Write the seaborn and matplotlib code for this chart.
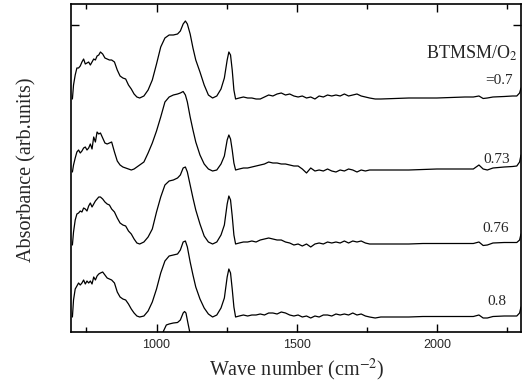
import matplotlib
matplotlib.use("Agg")
import matplotlib.pyplot as plt
import seaborn as sns
import pandas as pd

# Wavenumber grid (cm^-1)
wavenumber = [700, 704, 710, 716, 722, 728, 734, 740, 746, 752, 758, 764, 770, 776, 782, 788, 794, 800,
              808, 816, 824, 832, 840, 850, 860, 870, 880, 890, 900, 910, 920, 930, 940,
              955, 970, 985, 1000, 1015, 1030, 1045, 1060, 1075, 1085, 1095, 1103, 1110, 1120, 1130,
              1140, 1155, 1170, 1185, 1200, 1215, 1230, 1242, 1252, 1258, 1264, 1270, 1276, 1282,
              1295, 1310, 1325, 1340, 1355, 1370, 1385, 1400, 1415, 1430, 1445, 1460, 1475, 1490,
              1505, 1520, 1535, 1550, 1565, 1580, 1595, 1610, 1625, 1640, 1655, 1670, 1685, 1700,
              1715, 1730, 1745, 1760, 1780, 1800,
              1850, 1900, 1950, 2000, 2050, 2100, 2130, 2150, 2165, 2180, 2200, 2240, 2270, 2285, 2295, 2300]

# Offset absorbance (arb. units) for each BTMSM/O2 ratio
abs_070 = [233, 247, 257, 264, 264, 266, 270, 273, 268, 269, 270, 267, 270, 273, 272, 276, 277, 280,
           278, 274, 273, 272, 272, 270, 262, 256, 254, 253, 247, 243, 238, 235, 234,
           236, 242, 252, 268, 285, 294, 297, 297, 298, 301, 308, 311, 308, 298, 284,
           272, 260, 247, 237, 234, 236, 243, 254, 272, 280, 277, 262, 242, 233,
           234, 235, 234, 234, 233, 233, 235, 237, 236, 238, 239, 237, 238, 236,
           235, 236, 234, 235, 233, 236, 235, 237, 236, 237, 236, 238, 236, 237,
           238, 236, 235, 234, 233, 233,
           233.5, 234, 234, 234, 234.5, 235, 235, 236, 233.5, 234, 235, 235.5, 236, 236, 239, 244]

abs_073 = [160, 167, 174, 180, 182, 179, 181, 184, 185, 182, 184, 188, 183, 195, 190, 200, 198, 199,
           194, 189, 188, 189, 190, 180, 171, 167, 165, 164, 163, 162, 163, 165, 167,
           170, 179, 189, 201, 215, 230, 235, 237, 238, 239, 240.5, 237, 230, 215, 202,
           190, 177, 168, 163, 161, 162, 168, 176, 192, 197, 193, 182, 169, 162,
           163, 164, 164, 165, 166, 167, 168, 170, 169, 169, 168, 168, 167, 166,
           166, 163, 159, 164, 161, 162, 161, 163, 161, 160, 162, 161, 163, 162,
           160, 162, 161, 162, 162, 162,
           162, 162, 162.5, 163, 163, 163, 163, 167, 163, 162, 164, 165, 165.5, 166, 170, 177]

abs_076 = [87, 100, 112, 118, 119, 121, 120, 124, 123, 121, 126, 129, 125, 128, 131, 133, 135, 135,
           133, 130, 128, 127, 123, 120, 114, 109, 107, 106, 101, 98, 93, 89, 88,
           90, 95, 103, 120, 135, 147, 151, 152, 154, 157, 164, 165, 160, 147, 134,
           122, 108, 96, 90, 88, 90, 97, 107, 128, 136, 132, 116, 97, 88,
           89, 90, 90, 91, 90, 92, 93, 94, 93, 92, 92, 90, 89, 87,
           88, 86, 88, 85, 88, 89, 88, 90, 89, 90, 89, 91, 89, 91,
           90, 91, 89, 88, 88, 88,
           88, 88, 88.5, 88.5, 88.5, 88.5, 88.5, 90, 86.5, 87, 89, 89.5, 89.5, 89.5, 92, 98]

abs_080 = [15, 32, 43, 46, 49, 47, 49, 52, 48, 51, 49, 51, 48, 55, 52, 56, 58, 59,
           60, 57, 54, 53, 52, 49, 40, 35, 33, 32, 28, 23, 19, 16, 15,
           16, 21, 30, 43, 59, 71, 76, 77, 78, 82, 90, 91, 85, 70, 57,
           45, 33, 24, 18, 15, 17, 24, 34, 55, 63, 59, 43, 25, 15,
           16, 17, 16, 17, 17, 18, 17, 19, 19, 18, 20, 19, 17, 16,
           17, 15, 16, 14, 16, 15, 17, 17, 16, 18, 17, 18, 17, 19,
           17, 18, 16, 15, 14, 15,
           15, 15, 15.5, 15.5, 15.5, 15.5, 15.5, 17, 14, 14, 15.5, 16, 16, 16, 19, 25]

# Next spectrum below, only its Si-O-Si peak top is inside the frame
wavenumber_next = [1000, 1015, 1025, 1035, 1045, 1060, 1075, 1085, 1095, 1100, 1105, 1112, 1120, 1130]
abs_next = [-23, -8, 1, 7, 8, 9, 9.5, 12, 19, 20.5, 19, 9, -2, -16]

ratio_labels = ["=0.7", "0.73", "0.76", "0.8"]
y_ticks = [307]
x_major = [1000, 1500, 2000]
x_minor = [750, 1250, 1750, 2250]

sns.set_theme(style="ticks")
plt.rcParams["font.family"] = ["Liberation Serif", "DejaVu Serif"]
plt.rcParams["mathtext.fontset"] = "stix"

fig = plt.figure(figsize=(5.26, 3.87), dpi=100)
ax = fig.add_axes([71 / 526, 1 - 332 / 387, 450 / 526, 328 / 387])

frames = []
for name, vals in zip(["=0.7", "0.73", "0.76", "0.8"], [abs_070, abs_073, abs_076, abs_080]):
    frames.append(pd.DataFrame({"wn": wavenumber, "a": vals, "ratio": name}))
frames.append(pd.DataFrame({"wn": wavenumber_next, "a": abs_next, "ratio": "next"}))
df = pd.concat(frames, ignore_index=True)

sns.lineplot(data=df, x="wn", y="a", units="ratio", estimator=None, sort=False,
             color="black", linewidth=0.9, legend=False, ax=ax)

ax.set_xlim(695, 2300)
ax.set_ylim(0, 328)
ax.set_xticks(x_major)
ax.set_xticks(x_minor, minor=True)
ax.set_yticks(y_ticks)
ax.set_yticklabels([])
ax.tick_params(axis="both", which="major", direction="in", length=6, width=1,
               top=True, right=True, color="black")
ax.tick_params(axis="both", which="minor", direction="in", length=3.5, width=1,
               top=True, right=True, color="black")
ax.tick_params(axis="x", labelsize=9, pad=5)
for lab in ax.get_xticklabels():
    lab.set_fontfamily("Liberation Sans")
for s in ax.spines.values():
    s.set_linewidth(1.2)
    s.set_color("black")
    s.set_visible(True)

ax.set_xlabel("Wave number (cm$^{-2}$)", fontsize=14.5)
ax.set_ylabel("Absorbance (arb.units)", fontsize=14.5)
ax.xaxis.set_label_coords((296.5 - 71) / 450, (332 - 357) / 328)
ax.yaxis.set_label_coords((36 - 71) / 450, (332 - 170) / 328)

ax.text(0.991, 0.835, "BTMSM/O$_2$", transform=ax.transAxes, ha="right", va="baseline", fontsize=13)
label_pos = [(0.982, 0.756), (0.9756, 0.514), (0.974, 0.304), (0.968, 0.082)]
for txt, (px, py) in zip(ratio_labels, label_pos):
    ax.text(px, py, txt, transform=ax.transAxes, ha="right", va="baseline", fontsize=11)

fig.savefig("out.png", dpi=100)
